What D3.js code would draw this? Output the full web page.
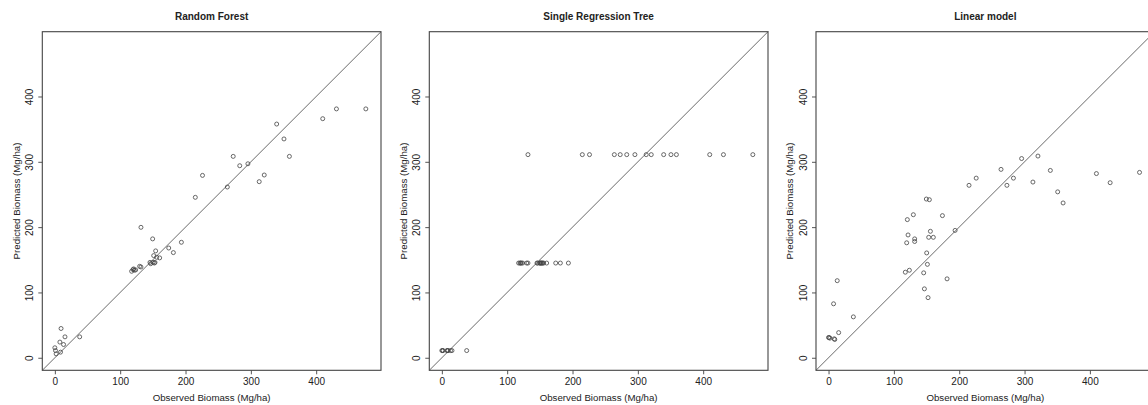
<!DOCTYPE html>
<html>
<head>
<meta charset="utf-8">
<script src="https://cdn.jsdelivr.net/npm/d3@7"></script>
<style>
  html, body { margin: 0; padding: 0; background: #fff; }
  svg { display: block; }
  text { font-family: "Liberation Sans", Arial, Helvetica, sans-serif; fill: #222; }
</style>
</head>
<body>
<svg id="chart" width="1148" height="405"></svg>
<script>
// ---- data ----
const panelTitles = ["Random Forest", "Single Regression Tree", "Linear model"];
const xAxisTitle = "Observed Biomass (Mg/ha)";
const yAxisTitle = "Predicted Biomass (Mg/ha)";
const tickValues = [0, 100, 200, 300, 400];
const axisDomain = [-19.2, 499.2];

const observed = [
  0, 1, 2, 7.7, 8.7, 9.5, 13.3, 15.5, 38,
  117.5, 119.6, 120.6, 121.7, 123.7, 129.8, 131.8, 131.8, 145.6, 146.7,
  149.7, 150.2, 151.3, 152.3, 153.3, 154.3, 155.9, 160.4, 174.3, 181.4, 193.7,
  215, 226, 264, 273, 283, 295.5, 312.8, 320.5, 339.5, 350.7, 359, 410, 431, 476
];
const predRandomForest = [
  15.3, 11, 6, 24, 8.6, 44.8, 20.3, 32, 32,
  132.4, 135, 136, 134, 134.5, 140, 199.7, 139, 146, 144,
  182, 146, 156.4, 145, 146, 163.6, 153.8, 152.9, 168, 161, 176.8,
  245.6, 279.2, 261.4, 308.3, 294, 297, 269.6, 279.8, 357.8, 335, 308.3, 366, 381, 381
];
const predRegressionTree = [
  11, 11, 11, 11, 11, 11, 11, 11, 11,
  145, 145, 145, 145, 145, 145, 311, 145, 145, 145,
  145, 145, 145, 145, 145, 145, 145, 145, 145, 145, 145,
  311, 311, 311, 311, 311, 311, 311, 311, 311, 311, 311, 311, 311, 311
];
const predLinearModel = [
  31, 31, 30, 82.6, 29, 28, 118, 38.5, 62.6,
  131, 176, 211.5, 188, 134, 219, 182, 178, 130, 105.5,
  243, 160.5, 143, 92, 184.4, 242, 193.6, 184.4, 217.6, 120.8, 195,
  264, 275, 288.4, 264, 275, 305, 269, 308.8, 286.8, 254, 237, 282, 268, 283.8
];
const predictions = [predRandomForest, predRegressionTree, predLinearModel];

// ---- layout ----
const svg = d3.select("#chart");
const boxW = 338.7, boxH = 338.6;
const top0 = 31.7;
const lefts = [42.3, 429.3, 816.0];

const x = d3.scaleLinear().domain(axisDomain).range([0, boxW]);
const y = d3.scaleLinear().domain(axisDomain).range([boxH, 0]);

panelTitles.forEach((title, i) => {
  const g = svg.append("g").attr("transform", `translate(${lefts[i]},${top0})`);

  // diagonal 1:1 line
  g.append("line")
    .attr("x1", x(axisDomain[0])).attr("y1", y(axisDomain[0]))
    .attr("x2", x(axisDomain[1])).attr("y2", y(axisDomain[1]))
    .attr("stroke", "#6a6a6a").attr("stroke-width", 1);

  // x axis
  const xa = g.append("g").attr("transform", `translate(0,${boxH})`)
    .call(d3.axisBottom(x).tickValues(tickValues).tickSize(4).tickPadding(3).tickFormat(d3.format("d")));
  xa.select(".domain").remove();
  xa.selectAll("line").attr("stroke", "#555");
  xa.selectAll("text").attr("font-size", "10px").attr("fill", "#333").attr("dy", null).attr("y", 15);

  // y axis
  const ya = g.append("g")
    .call(d3.axisLeft(y).tickValues(tickValues).tickSize(4).tickFormat(d3.format("d")));
  ya.select(".domain").remove();
  ya.selectAll("line").attr("stroke", "#555");
  ya.selectAll("text")
    .attr("font-size", "10px").attr("fill", "#333")
    .attr("x", null).attr("dy", null).attr("text-anchor", "middle")
    .attr("transform", "translate(-9,0) rotate(-90)");

  // box
  g.append("rect").attr("x", 0).attr("y", 0).attr("width", boxW).attr("height", boxH)
    .attr("fill", "none").attr("stroke", "#444").attr("stroke-width", 1.1);

  // points
  const pred = predictions[i];
  g.append("g").selectAll("circle")
    .data(observed.map((o, k) => ({o, p: pred[k]})))
    .join("circle")
    .attr("cx", d => x(d.o)).attr("cy", d => y(d.p)).attr("r", 2)
    .attr("fill", "none").attr("stroke", "#444").attr("stroke-width", 0.8);

  // titles
  g.append("text").attr("x", boxW / 2).attr("y", -11.4)
    .attr("text-anchor", "middle").attr("font-size", "10px").attr("font-weight", "bold")
    .attr("fill", "#111").text(title);
  g.append("text").attr("x", boxW / 2).attr("y", boxH + 31)
    .attr("text-anchor", "middle").attr("font-size", "9.7px").attr("fill", "#333").text(xAxisTitle);
  g.append("text")
    .attr("transform", `translate(-22.8,${boxH / 2 - 0}) rotate(-90)`)
    .attr("text-anchor", "middle").attr("font-size", "9.7px").attr("fill", "#333").text(yAxisTitle);
});
</script>
</body>
</html>
